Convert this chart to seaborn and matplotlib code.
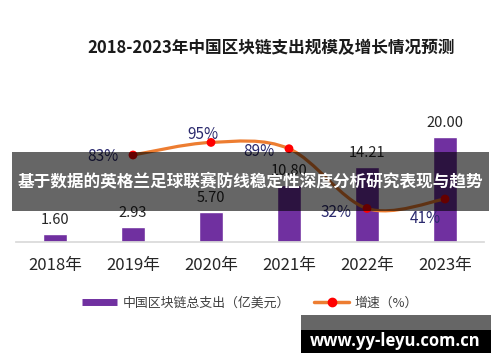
import pandas as pd
import matplotlib
matplotlib.use('Agg')
import matplotlib.pyplot as plt
from matplotlib.path import Path
from matplotlib.patches import PathPatch, Rectangle
from matplotlib.lines import Line2D
import seaborn as sns

# chart data
years = ['2018年', '2019年', '2020年', '2021年', '2022年', '2023年']
spend = [1.60, 2.93, 5.70, 10.80, 14.21, 20.00]
growth_years = ['2019年', '2020年', '2021年', '2022年', '2023年']
growth = [83, 95, 89, 32, 41]

title = '2018-2023年中国区块链支出规模及增长情况预测'
banner = '基于数据的英格兰足球联赛防线稳定性深度分析研究表现与趋势'
watermark = 'www.yy-leyu.com.cn'
bar_name = '中国区块链总支出（亿美元）'
line_name = '增速（%）'

# label offsets (points) for the growth labels
pct_offsets = [(-22, -1), (-6, 6), (-22, -2), (-22, -3), (-14, -14)]

sns.set_theme(style='white')
plt.rcParams['font.family'] = ['Noto Sans CJK SC', 'DejaVu Sans']

df = pd.DataFrame({'year': years, 'spend': spend})

fig = plt.figure(figsize=(5, 3.62), dpi=100)
ax = fig.add_axes([0.032, 0.3315, 0.936, 0.3923])
sns.barplot(data=df, x='year', y='spend', color='#7030A0', saturation=1,
            width=0.32, ax=ax)
ax.set_xlim(-0.5, 5.5)
ax.set_ylim(0, 27.05)
for s in ['top', 'right', 'left']:
    ax.spines[s].set_visible(False)
ax.spines['bottom'].set_color('#d9d9d9')
ax.set_yticks([])
ax.set_xlabel('')
ax.set_ylabel('')
ax.tick_params(axis='x', length=0, pad=11, labelsize=12, labelcolor='#262626')
for i, v in enumerate(spend):
    ax.annotate(f'{v:.2f}', (i, v), xytext=(0, 5), textcoords='offset points',
                ha='center', va='bottom', fontsize=10.5, color='#262626')

# growth line on second axis, smoothed with bezier segments
ax2 = ax.twinx()
ax2.set_ylim(0, 135.5)
ax2.set_yticks([])
for s in ax2.spines.values():
    s.set_visible(False)

xs = [years.index(y) for y in growth_years]
pts = list(zip(xs, growth))
verts = [pts[0]]
codes = [Path.MOVETO]
for i in range(len(pts) - 1):
    p0 = pts[max(i - 1, 0)]
    p1 = pts[i]
    p2 = pts[i + 1]
    p3 = pts[min(i + 2, len(pts) - 1)]
    c1 = (p1[0] + (p2[0] - p0[0]) / 6, p1[1] + (p2[1] - p0[1]) / 6)
    c2 = (p2[0] - (p3[0] - p1[0]) / 6, p2[1] - (p3[1] - p1[1]) / 6)
    verts += [c1, c2, p2]
    codes += [Path.CURVE4] * 3
ax2.add_patch(PathPatch(Path(verts, codes), facecolor='none',
                        edgecolor='#ED7D31', lw=2.3, zorder=3))
sns.scatterplot(x=xs, y=growth, ax=ax2, color='#FF0000', s=40,
                edgecolor='none', zorder=4)
for x, g, off in zip(xs, growth, pct_offsets):
    ax2.annotate(f'{g}%', (x, g), xytext=off, textcoords='offset points',
                 ha='center', va='center', fontsize=11, color='#2B2A6E')

fig.text(0.543, 0.867, title, ha='center', va='center', fontsize=12,
         fontweight='bold', color='#1a1a1a')

handles = [Line2D([0], [0], color='#7030A0', lw=5, solid_capstyle='butt'),
           Line2D([0], [0], color='#ED7D31', lw=2.5, marker='o', markersize=6,
                  markerfacecolor='#FF0000', markeredgecolor='#FF0000')]
fig.legend(handles, [bar_name, line_name], loc='center',
           bbox_to_anchor=(0.5, 0.163), ncol=2, frameon=False, fontsize=9.3,
           handlelength=2.7, handletextpad=0.4, columnspacing=1.9,
           labelcolor='#404040')

# overlay banner
fig.add_artist(Rectangle((0.024, 1 - 211 / 362), 0.954, 59 / 362,
                         transform=fig.transFigure, facecolor='black',
                         alpha=0.6, edgecolor='none', zorder=10))
fig.text(0.5, 0.5, banner, ha='center', va='center', fontsize=12,
         fontweight='bold', color='white', zorder=11)

# watermark
fig.add_artist(Rectangle((301 / 500, 1 - 330 / 362), 190 / 500, 15 / 362,
                         transform=fig.transFigure, facecolor='black',
                         alpha=0.6, edgecolor='none', zorder=10))
fig.add_artist(Rectangle((301 / 500, 1 - 353 / 362), 190 / 500, 23 / 362,
                         transform=fig.transFigure, facecolor='black',
                         edgecolor='none', zorder=10))
fig.text(0.79, 1 - 341 / 362, watermark, ha='center', va='center',
         fontsize=12, fontweight='bold', color='white', zorder=11,
         family=['Open Sans', 'DejaVu Sans'])

fig.savefig('out.png', dpi=100)
